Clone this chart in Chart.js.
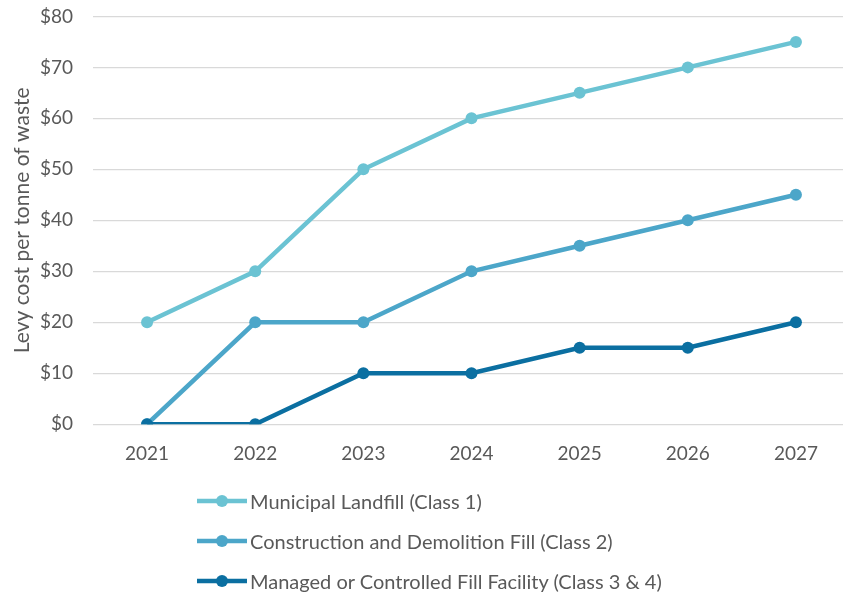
<!DOCTYPE html>
<html><head><meta charset="utf-8">
<script src="https://cdn.jsdelivr.net/npm/chart.js@4/dist/chart.umd.min.js"></script>
<style>
html,body{margin:0;padding:0;background:#fff;overflow:hidden;width:843px;height:594px;}
#wrap{position:absolute;left:0;top:-15px;width:856px;height:490px;}
#legend{position:absolute;left:196px;top:485px;font-family:Lato,"Open Sans",sans-serif;font-size:20px;color:#595959;}
.item{display:flex;align-items:center;height:32px;margin-bottom:8px;}
.item canvas{margin-right:2px;}
</style></head>
<body>
<div id="wrap"><canvas id="c"></canvas></div>
<div id="legend"></div>
<script>
const years = ['2021','2022','2023','2024','2025','2026','2027'];
const class1 = [20,30,50,60,65,70,75];
const class2 = [0,20,20,30,35,40,45];
const class34 = [0,0,10,10,15,15,20];
const names = ['Municipal Landfill (Class 1)','Construction and Demolition Fill (Class 2)','Managed or Controlled Fill Facility (Class 3 & 4)'];
const colors = ['#6BC3D3','#4CA6C9','#0B6FA1'];
const series = [class1,class2,class34];
const font = 'Lato, "Open Sans", sans-serif';
const datasets = series.map((d,i)=>({label:names[i],data:d,borderColor:colors[i],backgroundColor:colors[i],borderWidth:4.5,pointRadius:6,pointHoverRadius:6,pointBorderWidth:0,tension:0}));
const chart = new Chart(document.getElementById('c'),{
 type:'line',
 data:{labels:years,datasets:datasets.slice().reverse()},
 options:{
  responsive:true,maintainAspectRatio:false,animation:false,
  layout:{padding:{top:6,right:0,left:6,bottom:0}},
  plugins:{legend:{display:false},tooltip:{enabled:false}},
  scales:{
   x:{offset:true,grid:{display:false},border:{display:false},ticks:{color:'#595959',font:{family:font,size:19},padding:10}},
   y:{min:0,max:80,afterFit:s=>{s.width=87;},ticks:{stepSize:10,color:'#595959',font:{family:font,size:19},padding:20,callback:v=>'$'+v},
      grid:{color:'#d9d9d9',lineWidth:1.3,drawTicks:false},border:{display:false},
      title:{display:true,text:'Levy cost per tonne of waste',color:'#595959',font:{family:font,size:21},padding:{top:4,bottom:4}}}
  }
 }
});
const lg=document.getElementById('legend');
datasets.forEach(ds=>{
 const it=document.createElement('div');it.className='item';
 const cv=document.createElement('canvas');cv.width=52;cv.height=14;
 const g=cv.getContext('2d');g.strokeStyle=ds.borderColor;g.lineWidth=4.5;g.beginPath();g.moveTo(1,7);g.lineTo(51,7);g.stroke();
 g.fillStyle=ds.borderColor;g.beginPath();g.arc(26,7,6,0,Math.PI*2);g.fill();
 it.appendChild(cv);const s=document.createElement('span');s.textContent=ds.label;it.appendChild(s);lg.appendChild(it);
});
</script>
</body></html>
